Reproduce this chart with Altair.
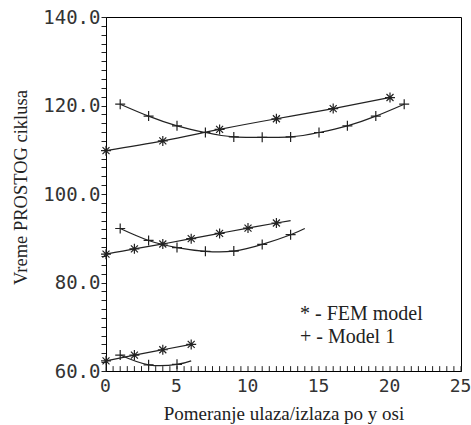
import altair as alt
import pandas as pd

# ---- data ----
fem_top_x = [0, 4, 8, 12, 16, 20]
fem_top_y = [109.8, 112.0, 114.6, 117.0, 119.3, 121.8]
m1_top_x = [1, 3, 5, 7, 9, 11, 13, 15, 17, 19, 21]
m1_top_y = [120.3, 117.6, 115.4, 113.9, 112.9, 112.8, 112.9, 113.9, 115.4, 117.6, 120.3]

fem_mid_x = [0, 2, 4, 6, 8, 10, 12]
fem_mid_y = [86.4, 87.6, 88.7, 89.9, 91.1, 92.3, 93.45]
fem_mid_end = [13, 94.0]
m1_mid_x = [1, 3, 5, 7, 9, 11, 13]
m1_mid_y = [92.2, 89.5, 87.9, 87.05, 87.1, 88.6, 90.8]
m1_mid_end = [14, 92.2]

fem_bot_x = [0, 2, 4, 6]
fem_bot_y = [62.3, 63.6, 64.8, 66.0]
m1_bot_x = [1, 3, 5]
m1_bot_y = [63.6, 61.4, 61.5]
m1_bot_end = [6, 62.3]

kinds = ["* - FEM model", "+ - Model 1"]
x_minor_ticks = [i * 0.5 for i in range(0, 51)]
y_tick_values = list(range(60, 141, 2))
x_tick_values = [0, 5, 10, 15, 20, 25]

series = [
    ("fem_top", kinds[0], fem_top_x, fem_top_y, None),
    ("m1_top", kinds[1], m1_top_x, m1_top_y, None),
    ("fem_mid", kinds[0], fem_mid_x, fem_mid_y, fem_mid_end),
    ("m1_mid", kinds[1], m1_mid_x, m1_mid_y, m1_mid_end),
    ("fem_bot", kinds[0], fem_bot_x, fem_bot_y, None),
    ("m1_bot", kinds[1], m1_bot_x, m1_bot_y, m1_bot_end),
]

rows = []
for name, kind, xs, ys, end in series:
    for xv, yv in zip(xs, ys):
        rows.append({"group": name, "kind": kind, "x": xv, "y": yv, "marked": True})
    if end is not None:
        rows.append({"group": name, "kind": kind, "x": end[0], "y": end[1], "marked": False})
df = pd.DataFrame(rows)
ticks_df = pd.DataFrame({"x": x_minor_ticks, "y": 60.0, "y1": 61.1})

xscale = alt.Scale(domain=[0, 25], nice=False, zero=False)
yscale = alt.Scale(domain=[60, 140], nice=False, zero=False)

tick_font = "DejaVu Sans Mono"
serif = "Liberation Serif"

x_axis = alt.Axis(
    title="Pomeranje ulaza/izlaza po y osi",
    values=x_tick_values,
    format="d",
    ticks=False,
    grid=False,
    domainColor="black",
    labelFont=tick_font,
    labelFontSize=18,
    labelColor="#333",
    labelPadding=6,
    labelOffset=-1,
    labelFlush=False,
    labelOverlap=False,
    titleFont=serif,
    titleFontSize=19,
    titleFontWeight="normal",
    titleColor="#222",
    titlePadding=9,
)
y_axis = alt.Axis(
    title="Vreme PROSTOG ciklusa",
    values=y_tick_values,
    labelExpr="datum.value % 20 === 0 ? format(datum.value, '.1f') : ''",
    ticks=True,
    tickSize=5,
    tickColor="#222",
    tickWidth=1,
    grid=False,
    domainColor="black",
    labelFont=tick_font,
    labelFontSize=19,
    labelColor="#333",
    labelPadding=1,
    labelFlush=False,
    labelOverlap=False,
    titleFont=serif,
    titleFontSize=18.5,
    titleFontWeight="normal",
    titleColor="#222",
    titlePadding=12,
    titleY=170,
)

X = alt.X("x:Q", scale=xscale, axis=x_axis)
Y = alt.Y("y:Q", scale=yscale, axis=y_axis)

minor = alt.Chart(ticks_df).mark_rule(color="#222", strokeWidth=1).encode(
    x=X, y=Y, y2="y1:Q",
)

lines = alt.Chart(df).mark_line(interpolate="natural", color="#222", strokeWidth=1.2).encode(
    x=X, y=Y, detail="group:N", order="x:Q",
)

star_path = "M-1,0L1,0M0,-1L0,1M-0.7,-0.7L0.7,0.7M-0.7,0.7L0.7,-0.7"
plus_path = "M-1,0L1,0M0,-1L0,1"

markers = alt.Chart(df).transform_filter("datum.marked").mark_point(
    filled=False, strokeWidth=1.2, size=100, color="#222", opacity=1
).encode(
    x=X,
    y=Y,
    shape=alt.Shape(
        "kind:N",
        scale=alt.Scale(domain=kinds, range=[star_path, plus_path]),
        legend=alt.Legend(
            title=None,
            orient="none",
            legendX=174,
            legendY=287,
            symbolSize=0,
            symbolOpacity=0,
            symbolStrokeWidth=0,
            labelFont=serif,
            labelFontSize=20,
            labelColor="#222",
            labelOffset=0,
            rowPadding=3,
        ),
    ),
)

chart = alt.layer(minor, lines, markers).properties(
    width=355,
    height=354,
    padding={"left": 106, "top": 17, "right": 10, "bottom": 54},
    autosize=alt.AutoSizeParams(type="none"),
    background="white",
).configure_view(stroke="black", strokeWidth=1)

chart.save("out.html", embed_options={"renderer": "svg", "actions": False})
